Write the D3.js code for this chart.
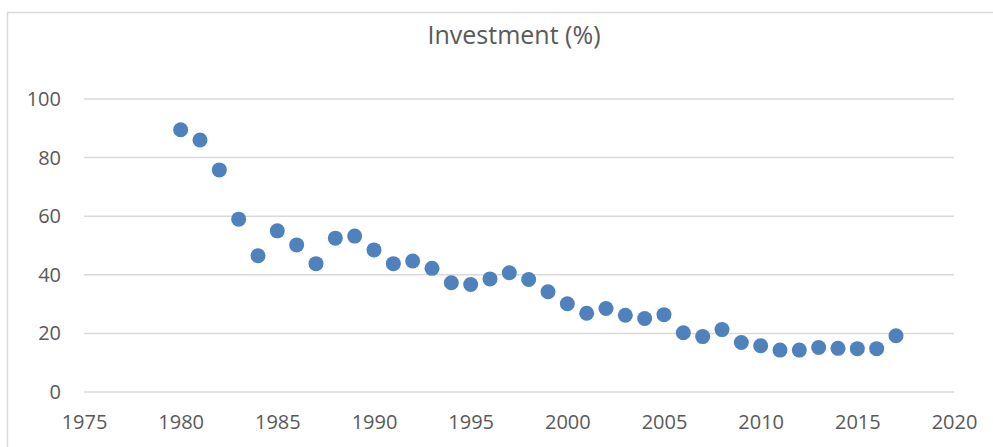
<!DOCTYPE html>
<html>
<head>
<meta charset="utf-8">
<script src="https://cdn.jsdelivr.net/npm/d3@7"></script>
<style>
	body { margin: 0; background: #fff; }
	text { font-family: "Open Sans", sans-serif; fill: #595959; }
</style>
</head>
<body>
<div id="chart"></div>
<script>
var years = [1980, 1981, 1982, 1983, 1984, 1985, 1986, 1987, 1988, 1989,
	1990, 1991, 1992, 1993, 1994, 1995, 1996, 1997, 1998, 1999,
	2000, 2001, 2002, 2003, 2004, 2005, 2006, 2007, 2008, 2009,
	2010, 2011, 2012, 2013, 2014, 2015, 2016, 2017];
var investment = [89.5, 86, 75.8, 59, 46.5, 55, 50.2, 43.8, 52.5, 53.2,
	48.5, 43.8, 44.7, 42.2, 37.3, 36.7, 38.6, 40.7, 38.4, 34.2,
	30.1, 26.9, 28.5, 26.2, 25.1, 26.4, 20.2, 18.9, 21.3, 16.9,
	15.8, 14.3, 14.3, 15.2, 14.9, 14.8, 14.8, 19.2];
var xTicks = [1975, 1980, 1985, 1990, 1995, 2000, 2005, 2010, 2015, 2020];
var yTicks = [0, 20, 40, 60, 80, 100];
var title = "Investment (%)";

var width = 993, height = 447;

var svg = d3.select("#chart")
	.append("svg")
	.attr("width", width)
	.attr("height", height);

// chart frame (runs off the right and bottom edge like the original)
svg.append("rect")
	.attr("x", 7.5)
	.attr("y", 12.5)
	.attr("width", 1200)
	.attr("height", 800)
	.attr("fill", "#fff")
	.attr("stroke", "#d9d9d9")
	.attr("stroke-width", 1.5);

var x = d3.scaleLinear().domain([1975, 2020]).range([84, 954]);
var y = d3.scaleLinear().domain([0, 100]).range([392, 99]);

// gridlines
svg.append("g")
	.selectAll("line")
	.data(yTicks).enter()
	.append("line")
	.attr("x1", x(1975))
	.attr("x2", x(2020))
	.attr("y1", function(d){ return y(d); })
	.attr("y2", function(d){ return y(d); })
	.attr("stroke", "#d9d9d9")
	.attr("stroke-width", 1.5);

var yAxis = svg.append("g")
	.attr("transform", "translate(" + (x(1975) - 23) + ",0)")
	.call(d3.axisLeft(y).tickValues(yTicks).tickSize(0).tickPadding(0));
yAxis.select(".domain").remove();
yAxis.selectAll("text")
	.attr("font-size", "20px")
	.attr("fill", "#595959")
	.attr("font-family", "Open Sans, sans-serif");

var xAxis = svg.append("g")
	.attr("transform", "translate(0," + (y(0) + 23) + ")")
	.call(d3.axisBottom(x).tickValues(xTicks).tickFormat(d3.format("d")).tickSize(0).tickPadding(0));
xAxis.select(".domain").remove();
xAxis.selectAll("text")
	.attr("font-size", "20px")
	.attr("fill", "#595959")
	.attr("font-family", "Open Sans, sans-serif");

svg.append("text")
	.attr("x", 514)
	.attr("y", 44)
	.attr("text-anchor", "middle")
	.attr("font-size", "25px")
	.text(title);

svg.append("g")
	.selectAll("circle")
	.data(years).enter()
	.append("circle")
	.attr("cx", function(d){ return x(d); })
	.attr("cy", function(d, i){ return y(investment[i]); })
	.attr("r", 7.5)
	.attr("fill", "#4f81bd");
</script>
</body>
</html>
